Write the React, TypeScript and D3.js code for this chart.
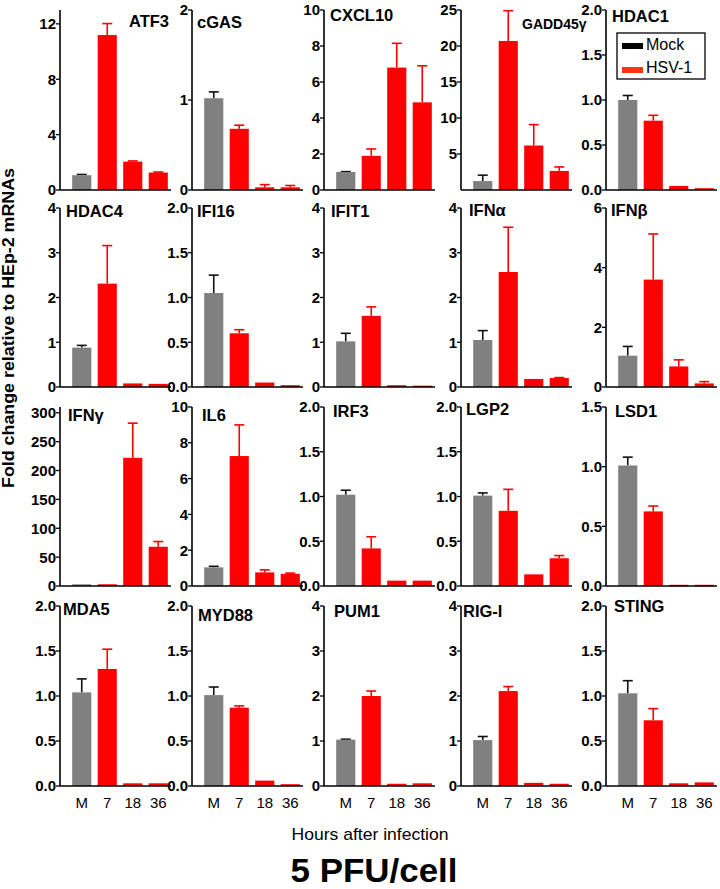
import React from "react";
import * as d3 from "d3";

const genes = ["ATF3", "cGAS", "CXCL10", "GADD45γ", "HDAC1", "HDAC4", "IFI16", "IFIT1", "IFNα", "IFNβ", "IFNγ", "IL6", "IRF3", "LGP2", "LSD1", "MDA5", "MYD88", "PUM1", "RIG-I", "STING"];
const timepoints = ["M", "7", "18", "36"];
const axisMax = [13, 2, 10, 25, 2, 4, 2, 4, 4, 6, 310, 10, 2, 2, 1.5, 2, 2, 4, 4, 2];
const tickMax = [12, 2, 10, 25, 2, 4, 2, 4, 4, 6, 300, 10, 2, 2, 1.5, 2, 2, 4, 4, 2];
const tickStep = [4, 1, 2, 5, 0.5, 1, 0.5, 1, 1, 2, 50, 2, 0.5, 0.5, 0.5, 0.5, 0.5, 1, 1, 0.5];
const tickMin = [0, 0, 0, 5, 0, 0, 0, 0, 0, 0, 0, 0, 0, 0, 0, 0, 0, 0, 0, 0];

const mockMean = [1.07, 1.02, 1.0, 1.24, 1.0, 0.88, 1.05, 1.02, 1.05, 1.05, 3, 1.04, 1.02, 1.01, 1.01, 1.04, 1.01, 1.03, 1.02, 1.03];
const mockErr = [0.05, 0.07, 0.02, 0.82, 0.05, 0.05, 0.2, 0.18, 0.21, 0.31, 0, 0.06, 0.05, 0.03, 0.07, 0.15, 0.09, 0.01, 0.08, 0.14];
const h7Mean = [11.19, 0.68, 1.9, 20.7, 0.77, 2.31, 0.6, 1.59, 2.57, 3.6, 3, 7.26, 0.42, 0.84, 0.625, 1.3, 0.87, 2.0, 2.11, 0.73];
const h7Err = [0.83, 0.04, 0.38, 4.2, 0.06, 0.85, 0.04, 0.2, 1.0, 1.53, 0, 1.74, 0.13, 0.24, 0.045, 0.22, 0.02, 0.11, 0.1, 0.13];
const h18Mean = [2.05, 0.03, 6.8, 6.18, 0.045, 0.08, 0.05, 0.04, 0.18, 0.69, 222, 0.76, 0.06, 0.13, 0.01, 0.03, 0.06, 0.05, 0.07, 0.03];
const h18Err = [0.05, 0.03, 1.35, 2.9, 0, 0, 0, 0, 0, 0.22, 60, 0.14, 0, 0, 0, 0, 0, 0, 0, 0];
const h36Mean = [1.26, 0.03, 4.87, 2.65, 0.02, 0.07, 0.02, 0.03, 0.2, 0.12, 68, 0.68, 0.06, 0.31, 0.01, 0.03, 0.02, 0.06, 0.05, 0.04];
const h36Err = [0.04, 0.02, 2.03, 0.55, 0, 0, 0, 0, 0.01, 0.06, 9, 0.04, 0, 0.03, 0, 0, 0, 0, 0, 0];

const legendLabels = ["Mock", "HSV-1"];

// layout
const colX = [60, 192, 324, 461, 606];
const rowBase = [190, 387, 586, 786];
const rowTop = [10, 208, 407, 606];
const titleX = [129, 197, 330, 522, 612, 66, 197, 331, 469, 611, 68, 202, 333, 466, 615, 63, 198, 334, 463, 614];
const titleY = [27, 28, 21, 29, 22, 217, 217, 217, 216, 216, 421, 421, 417, 415, 417, 615, 621, 617, 617, 612];

const FONT = "'Liberation Sans', Arial, Helvetica, sans-serif";
const GRAY = "#808080";
const RED = "#ff0000";

function Panel({ i }: { i: number }) {
  const r = Math.floor(i / 5);
  const c = i % 5;
  const x0 = colX[c];
  const y = d3.scaleLinear().domain([0, axisMax[i]]).range([rowBase[r], rowTop[r]]);
  const x = d3.scaleBand<string>().domain(timepoints).range([x0 + 9, x0 + 111]).paddingInner(0.25).paddingOuter(0.125);
  const means = [mockMean[i], h7Mean[i], h18Mean[i], h36Mean[i]];
  const errs = [mockErr[i], h7Err[i], h18Err[i], h36Err[i]];
  const dec = tickStep[i] < 1;
  const fmt = dec ? d3.format(".1f") : d3.format("d");
  const ticks = d3.range(tickMin[i], tickMax[i] + tickStep[i] / 2, tickStep[i]);
  const bw = x.bandwidth();
  return (
    <g>
      {timepoints.map((t, k) => {
        const color = k === 0 ? GRAY : RED;
        const ecol = k === 0 ? "#111" : RED;
        const bx = x(t)!;
        const top = y(means[k]);
        const etop = y(means[k] + errs[k]);
        const cx = bx + bw / 2;
        return (
          <g key={t}>
            {errs[k] > 0 && (
              <g stroke={ecol} strokeWidth={1.6}>
                <line x1={cx} x2={cx} y1={top} y2={etop} />
                <line x1={cx - 5} x2={cx + 5} y1={etop} y2={etop} />
              </g>
            )}
            <rect x={bx} y={top} width={bw} height={Math.max(rowBase[r] - top, 1.5)} fill={color} />
          </g>
        );
      })}
      <line x1={x0} x2={x0} y1={rowBase[r]} y2={y(axisMax[i])} stroke="#000" strokeWidth={1.6} />
      <line x1={x0} x2={x0 + 111} y1={rowBase[r]} y2={rowBase[r]} stroke="#000" strokeWidth={1.6} />
      {ticks.map((v) => (
        <g key={v}>
          <line x1={x0 - 4} x2={x0} y1={y(v)} y2={y(v)} stroke="#000" strokeWidth={1.3} />
          <text x={x0 - 4} y={y(v)} dy="0.36em" textAnchor="end" fontFamily={FONT} fontWeight="bold" fontSize={15} fill="#000">
            {fmt(v)}
          </text>
        </g>
      ))}
      <text x={titleX[i]} y={titleY[i]} fontFamily={FONT} fontWeight="bold" fontSize={genes[i] === "GADD45γ" ? 14 : 16.5} fill="#000">
        {genes[i]}
      </text>
      {r === 3 &&
        timepoints.map((t) => (
          <text key={t} x={x(t)! + bw / 2} y={808} textAnchor="middle" fontFamily={FONT} fontSize={15} fill="#000">
            {t}
          </text>
        ))}
      {i === 4 && (
        <g fontFamily={FONT} fontSize={16}>
          <rect x={617} y={33} width={88} height={46} fill="#fff" stroke="#000" strokeWidth={1.3} />
          <rect x={622} y={43} width={21} height={6} fill="#000" />
          <text x={646} y={50}>{legendLabels[0]}</text>
          <rect x={622} y={67} width={21} height={6} fill="#ff3311" />
          <text x={646} y={73}>{legendLabels[1]}</text>
        </g>
      )}
    </g>
  );
}

export default function App() {
  return (
    <div style={{ position: "absolute", left: 0, top: 0 }}>
      <svg width={720} height={889} style={{ display: "block", background: "#fff" }}>
        <rect width={720} height={889} fill="#fff" />
        {genes.map((g, i) => (
          <Panel key={g} i={i} />
        ))}
        <text transform="translate(14,328) rotate(-90)" textAnchor="middle" fontFamily={FONT} fontWeight="bold" fontSize={16} textLength={320} lengthAdjust="spacingAndGlyphs">
          Fold change relative to HEp-2 mRNAs
        </text>
        <text x={370} y={840} textAnchor="middle" fontFamily={FONT} fontSize={17} textLength={157} lengthAdjust="spacingAndGlyphs">
          Hours after infection
        </text>
        <text x={374} y={882} textAnchor="middle" fontFamily={FONT} fontWeight="bold" fontSize={33} textLength={167} lengthAdjust="spacingAndGlyphs">
          5 PFU/cell
        </text>
      </svg>
    </div>
  );
}
